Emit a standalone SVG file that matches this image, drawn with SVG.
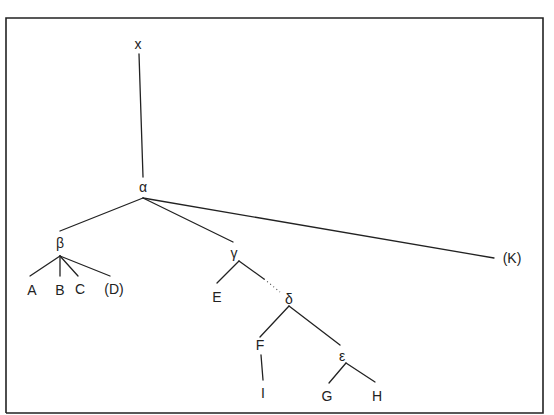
<svg xmlns="http://www.w3.org/2000/svg" width="554" height="415" viewBox="0 0 554 415">
<style>
.l{stroke:#222;stroke-width:1.3;fill:none;stroke-linecap:round}
.d{stroke:#444;stroke-width:1.1;fill:none;stroke-dasharray:1 3}
.t{font-family:"Liberation Sans","DejaVu Sans",sans-serif;font-size:14px;fill:#222;text-anchor:middle;dominant-baseline:central}
.f{stroke:#222;stroke-width:1.6;fill:none}
</style>
<rect width="554" height="415" fill="#fff"/>
<path class="f" d="M6,413 V18 H543 V413 H6"/>
<g id="connectors">
<line class="l" x1="139" y1="54" x2="143" y2="177"/>
<line class="l" x1="143" y1="198" x2="60" y2="231"/>
<line class="l" x1="143" y1="198" x2="233" y2="242"/>
<line class="l" x1="143" y1="198" x2="494" y2="258"/>
<line class="l" x1="60" y1="256" x2="30" y2="276"/>
<line class="l" x1="60" y1="256" x2="60" y2="276"/>
<line class="l" x1="60" y1="256" x2="78" y2="276"/>
<line class="l" x1="60" y1="256" x2="110" y2="276"/>
<line class="l" x1="239" y1="261" x2="217" y2="283"/>
<line class="l" x1="239" y1="261" x2="264" y2="279"/>
<line class="d" x1="264" y1="279" x2="280" y2="292"/>
<line class="l" x1="289" y1="306" x2="260" y2="337"/>
<line class="l" x1="289" y1="306" x2="340" y2="345"/>
<line class="l" x1="261" y1="355" x2="263" y2="380"/>
<line class="l" x1="346" y1="363" x2="329" y2="383"/>
<line class="l" x1="346" y1="363" x2="375" y2="382"/>
</g>
<g id="n-x"><text class="t" x="138" y="44">x</text></g>
<g id="n-alpha"><text class="t" x="143" y="187">α</text></g>
<g id="n-beta"><text class="t" x="60" y="243">β</text></g>
<g id="n-gamma"><text class="t" x="234" y="253">γ</text></g>
<g id="n-K"><text class="t" x="512" y="258">(K)</text></g>
<g id="n-A"><text class="t" x="32" y="290">A</text></g>
<g id="n-B"><text class="t" x="60" y="290">B</text></g>
<g id="n-C"><text class="t" x="80" y="289">C</text></g>
<g id="n-D"><text class="t" x="114" y="289">(D)</text></g>
<g id="n-E"><text class="t" x="217" y="297">E</text></g>
<g id="n-delta"><text class="t" x="289" y="299">δ</text></g>
<g id="n-F"><text class="t" x="260" y="345">F</text></g>
<g id="n-epsilon"><text class="t" x="342" y="356">ε</text></g>
<g id="n-I"><text class="t" x="263" y="393">I</text></g>
<g id="n-G"><text class="t" x="327" y="396">G</text></g>
<g id="n-H"><text class="t" x="377" y="396">H</text></g>
</svg>
